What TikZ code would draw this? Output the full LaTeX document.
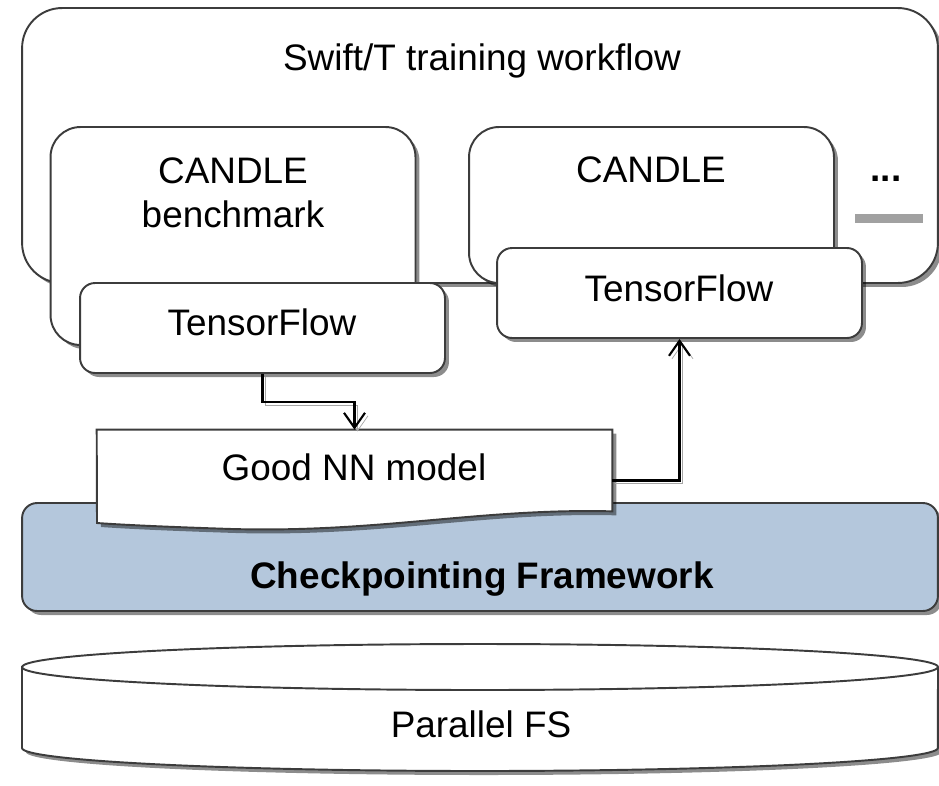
\documentclass[tikz,border=0pt]{standalone}
\usepackage{fontspec}
\setmainfont{Liberation Sans}
\usetikzlibrary{calc,arrows.meta,positioning,shadows}
\definecolor{myLine}{HTML}{3C3C3C}
\definecolor{myBlue}{HTML}{B4C7DC}
\tikzset{
myShadow/.style={
	drop shadow={shadow xshift=0.08cm,shadow yshift=-0.08cm,fill=black,opacity=0.45}
}
, myBox/.style={
	rectangle,draw=myLine,fill=white,line width=1.1pt,
	rounded corners=0.8cm,inner sep=0pt,myShadow
}
, myCandle/.style={
	myBox,rounded corners=0.6cm,minimum width=7.3cm
}
, myTf/.style={
	myBox,rounded corners=0.3cm,minimum width=7.3cm,minimum height=1.8cm
}
, myLayer/.style={
	myBox,rounded corners=0.3cm,fill=myBlue
}
, myMore/.style={
	rectangle,fill=white,inner sep=0pt,minimum width=1.36cm,minimum height=0.82cm,
	drop shadow={shadow xshift=0cm,shadow yshift=-0.18cm,fill=black!37,opacity=1}
}
, myDoc/.style={draw=myLine,fill=white,line width=1.1pt,myShadow}
, myCyl/.style={draw=myLine,fill=white,line width=1.1pt,myShadow}
, myText/.style={anchor=base,inner sep=0pt,text=black}
% link
, myFlow/.style={
	-{Straight Barb[length=0.3cm,width=0.42cm]},line width=1.2pt,black,
	preaction={draw=black!35,-{Straight Barb[length=0.3cm,width=0.42cm]},
		transform canvas={shift={(0.06cm,-0.06cm)}}}
}
}

\begin{document}
\begin{tikzpicture}[x=0.02cm,y=-0.02cm,font=\fontsize{21pt}{25pt}\selectfont]
	\useasboundingbox (0,0) rectangle (939,785);
	% workflow
	\node[myBox,minimum width=18.32cm,minimum height=5.5cm] (swift) at (480,145.5) {};
	\node[myText] (swiftText) at (482,70) {Swift/T training workflow};
	% candle runs
	\node[myCandle,minimum height=4.36cm] (candleA) at (233,236) {};
	\node[anchor=center,inner sep=0pt,align=center] (candleAText) at (233,193) {CANDLE\\benchmark};
	\node[myCandle,minimum height=3.12cm] (candleB) at (651.5,205) {};
	\node[myText] (candleBText) at (651,182) {CANDLE};
	\node[myTf] (tfA) at (262.5,328) {};
	\node[myText] (tfAText) at (262,335) {TensorFlow};
	\node[myTf] (tfB) at (679.5,293) {};
	\node[myText] (tfBText) at (679,301) {TensorFlow};
	% more runs
	\node[myMore] (more) at (889,193.5) {};
	\node[myText] (moreText) at (886,181) {\textbf{...}};
	% checkpointing
	\node[myLayer,minimum width=18.32cm,minimum height=2.16cm] (ckpt) at (480,557) {};
	\node[myText] (ckptText) at (482,588) {\textbf{Checkpointing Framework}};
	% model
	\node[minimum width=10.3cm,minimum height=1.62cm,inner sep=0pt] (model) at (354.5,470.5) {};
	\draw[myDoc] (model.north west) -- (model.north east) -- (model.south east)
		.. controls (480,508) and (380,533) .. (232,529)
		.. controls (170,527) and (125,525) .. (97,523) -- cycle;
	\node[myText] (modelText) at (354,480) {Good NN model};
	% links
	\draw[myFlow] (tfA.south) -- ++(0,28) -| (model.north);
	\draw[myFlow] ([yshift=-0.2cm]model.east) -| (tfB.south);
	% storage
	\draw[myCyl] (22,667) -- (22,748)
		arc[start angle=180,end angle=360,x radius=9.16cm,y radius=0.46cm]
		-- (938,667)
		arc[start angle=0,end angle=180,x radius=9.16cm,y radius=0.46cm] -- cycle;
	\draw[draw=myLine,line width=1.1pt] (22,667)
		arc[start angle=180,end angle=360,x radius=9.16cm,y radius=0.46cm];
	\node[myText] (fsText) at (481,737) {Parallel FS};
\end{tikzpicture}
\end{document}
